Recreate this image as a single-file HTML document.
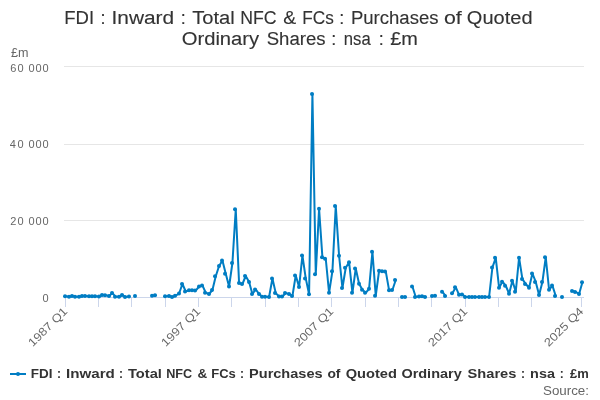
<!DOCTYPE html>
<html><head><meta charset="utf-8"><style>
html,body{margin:0;padding:0;background:#fff;width:600px;height:400px;overflow:hidden}
svg{display:block;will-change:transform;font-family:"Liberation Sans", sans-serif}
</style></head><body>
<svg width="600" height="400" viewBox="0 0 600 400">
<rect width="600" height="400" fill="#fff"/>
<g fill="#333333" font-size="18" stroke="#333333" stroke-width="0.12">
<text x="64.26" y="24.2" textLength="29.78" lengthAdjust="spacingAndGlyphs">FDI</text><text x="100.50" y="24.2">:</text><text x="111.56" y="24.2" textLength="62.63" lengthAdjust="spacingAndGlyphs">Inward</text><text x="180.70" y="24.2">:</text><text x="192.22" y="24.2" textLength="42.51" lengthAdjust="spacingAndGlyphs">Total</text><text x="240.23" y="24.2" textLength="36.31" lengthAdjust="spacingAndGlyphs">NFC</text><text x="283.16" y="24.2" textLength="12.92" lengthAdjust="spacingAndGlyphs">&amp;</text><text x="302.27" y="24.2" textLength="31.51" lengthAdjust="spacingAndGlyphs">FCs</text><text x="339.15" y="24.2">:</text><text x="350.96" y="24.2" textLength="87.51" lengthAdjust="spacingAndGlyphs">Purchases</text><text x="444.01" y="24.2" textLength="17.81" lengthAdjust="spacingAndGlyphs">of</text><text x="466.87" y="24.2" textLength="65.70" lengthAdjust="spacingAndGlyphs">Quoted</text><text x="181.66" y="45.2" textLength="77.58" lengthAdjust="spacingAndGlyphs">Ordinary</text><text x="266.73" y="45.2" textLength="58.84" lengthAdjust="spacingAndGlyphs">Shares</text><text x="331.25" y="45.2">:</text><text x="343.84" y="45.2" textLength="26.89" lengthAdjust="spacingAndGlyphs">nsa</text><text x="378.65" y="45.2">:</text><text x="390.15" y="45.2" textLength="27.68" lengthAdjust="spacingAndGlyphs">£m</text>
</g>
<g fill="#666666" font-size="11">
<text x="11" y="57.2" font-size="12" textLength="17.5" lengthAdjust="spacingAndGlyphs">£m</text>
<text x="10.28 17.55 28.5 35.5 42.5" y="71.6">60000</text>
<text x="9.83 17.55 28.5 35.5 42.5" y="147.9">40000</text>
<text x="10.28 17.55 28.5 35.5 42.5" y="225">20000</text>
<text x="42.55" y="301.7">0</text>
</g>
<g stroke="#e6e6e6" stroke-width="1">
<line x1="64" y1="66.5" x2="584" y2="66.5"/>
<line x1="64" y1="144.5" x2="584" y2="144.5"/>
<line x1="64" y1="220.5" x2="584" y2="220.5"/>
</g>
<g stroke="#ccd6eb" stroke-width="1">
<line x1="64" y1="297.5" x2="584" y2="297.5"/>
<line x1="65.5" y1="297" x2="65.5" y2="307"/><line x1="98.5" y1="297" x2="98.5" y2="307"/><line x1="131.5" y1="297" x2="131.5" y2="307"/><line x1="165.5" y1="297" x2="165.5" y2="307"/><line x1="198.5" y1="297" x2="198.5" y2="307"/><line x1="231.5" y1="297" x2="231.5" y2="307"/><line x1="265.5" y1="297" x2="265.5" y2="307"/><line x1="298.5" y1="297" x2="298.5" y2="307"/><line x1="331.5" y1="297" x2="331.5" y2="307"/><line x1="365.5" y1="297" x2="365.5" y2="307"/><line x1="398.5" y1="297" x2="398.5" y2="307"/><line x1="431.5" y1="297" x2="431.5" y2="307"/><line x1="465.5" y1="297" x2="465.5" y2="307"/><line x1="498.5" y1="297" x2="498.5" y2="307"/><line x1="531.5" y1="297" x2="531.5" y2="307"/><line x1="581.5" y1="297" x2="581.5" y2="307"/>
</g>
<g fill="#666666" font-size="11" text-anchor="end">
<text x="68.20" y="312" transform="rotate(-45 68.20 312)" font-size="11.5" textLength="50" lengthAdjust="spacingAndGlyphs">1987 Q1</text>
<text x="201.20" y="312" transform="rotate(-45 201.20 312)" font-size="11.5" textLength="50" lengthAdjust="spacingAndGlyphs">1997 Q1</text>
<text x="334.20" y="312" transform="rotate(-45 334.20 312)" font-size="11.5" textLength="50" lengthAdjust="spacingAndGlyphs">2007 Q1</text>
<text x="468.20" y="312" transform="rotate(-45 468.20 312)" font-size="11.5" textLength="50" lengthAdjust="spacingAndGlyphs">2017 Q1</text>
<text x="584.20" y="312" transform="rotate(-45 584.20 312)" font-size="11.5" textLength="50" lengthAdjust="spacingAndGlyphs">2025 Q4</text>
</g>
<path d="M65.75 296.30 L69.08 296.80 L72.42 295.90 L75.75 296.80 L79.08 296.70 L82.42 296.00 L85.75 296.00 L89.08 296.20 L92.42 296.20 L95.75 296.20 L99.08 296.50 L102.42 295.00 L105.75 295.30 L109.08 296.00 L112.42 293.10 L115.75 296.80 L119.08 296.80 L122.42 295.00 L125.75 297.00 L129.08 296.40 M152.42 295.70 L155.75 295.30 M165.75 296.30 L169.08 296.00 L172.42 297.00 L175.75 295.70 L179.08 293.50 L182.42 284.00 L185.75 291.50 L189.08 290.25 L192.42 290.25 L195.75 290.60 L199.08 286.50 L202.42 285.40 L205.75 292.75 L209.08 294.00 L212.42 290.00 L215.75 276.25 L219.08 266.00 L222.42 260.60 L225.75 273.75 L229.08 286.50 L232.42 263.00 L235.75 209.20 L239.08 283.10 L242.42 284.00 L245.75 276.00 L249.08 281.90 L252.42 294.00 L255.75 289.40 L259.08 294.00 L262.42 296.75 L265.75 296.75 L269.08 297.00 L272.42 278.50 L275.75 293.10 L279.08 296.50 L282.42 296.50 L285.75 293.10 L289.08 294.00 L292.42 296.00 L295.75 275.40 L299.08 287.10 L302.42 255.50 L305.75 278.40 L309.08 294.30 L312.42 94.00 L315.75 274.20 L319.08 208.75 L322.42 257.25 L325.75 258.75 L329.08 292.80 L332.42 271.20 L335.75 206.10 L339.08 255.75 L342.42 288.00 L345.75 267.75 L349.08 262.20 L352.42 292.80 L355.75 268.50 L359.08 283.80 L362.42 289.80 L365.75 292.80 L369.08 288.75 L372.42 251.70 L375.75 295.80 L379.08 270.75 L382.42 271.20 L385.75 271.40 L389.08 290.20 L392.42 290.00 L395.75 280.00 M402.42 297.00 L405.75 297.00 M412.42 286.50 L415.75 297.00 L419.08 296.50 L422.42 296.20 L425.75 297.00 M432.42 296.00 L435.75 295.80 M442.42 291.80 L445.75 296.00 M452.42 293.20 L455.75 287.20 L459.08 294.80 L462.42 294.50 L465.75 297.00 L469.08 297.00 L472.42 297.00 L475.75 297.00 L479.08 297.00 L482.42 297.00 L485.75 297.00 L489.08 297.00 L492.42 267.40 L495.75 257.80 L499.08 287.70 L502.42 281.70 L505.75 285.75 L509.08 293.70 L512.42 280.70 L515.75 291.75 L519.08 257.70 L522.42 279.10 L525.75 284.00 L529.08 287.75 L532.42 273.50 L535.75 281.90 L539.08 295.00 L542.42 281.90 L545.75 257.25 L549.08 289.75 L552.42 285.60 L555.75 296.00 M572.42 291.00 L575.75 291.90 L579.08 294.00 L582.42 282.25 " fill="none" stroke="#007dc3" stroke-width="2" stroke-linejoin="round" stroke-linecap="round"/>
<g fill="#007dc3"><circle cx="65" cy="296.30" r="2"/><circle cx="69" cy="296.80" r="2"/><circle cx="72" cy="295.90" r="2"/><circle cx="75" cy="296.80" r="2"/><circle cx="79" cy="296.70" r="2"/><circle cx="82" cy="296.00" r="2"/><circle cx="85" cy="296.00" r="2"/><circle cx="89" cy="296.20" r="2"/><circle cx="92" cy="296.20" r="2"/><circle cx="95" cy="296.20" r="2"/><circle cx="99" cy="296.50" r="2"/><circle cx="102" cy="295.00" r="2"/><circle cx="105" cy="295.30" r="2"/><circle cx="109" cy="296.00" r="2"/><circle cx="112" cy="293.10" r="2"/><circle cx="115" cy="296.80" r="2"/><circle cx="119" cy="296.80" r="2"/><circle cx="122" cy="295.00" r="2"/><circle cx="125" cy="297.00" r="2"/><circle cx="129" cy="296.40" r="2"/><circle cx="135" cy="296.00" r="2"/><circle cx="152" cy="295.70" r="2"/><circle cx="155" cy="295.30" r="2"/><circle cx="165" cy="296.30" r="2"/><circle cx="169" cy="296.00" r="2"/><circle cx="172" cy="297.00" r="2"/><circle cx="175" cy="295.70" r="2"/><circle cx="179" cy="293.50" r="2"/><circle cx="182" cy="284.00" r="2"/><circle cx="185" cy="291.50" r="2"/><circle cx="189" cy="290.25" r="2"/><circle cx="192" cy="290.25" r="2"/><circle cx="195" cy="290.60" r="2"/><circle cx="199" cy="286.50" r="2"/><circle cx="202" cy="285.40" r="2"/><circle cx="205" cy="292.75" r="2"/><circle cx="209" cy="294.00" r="2"/><circle cx="212" cy="290.00" r="2"/><circle cx="215" cy="276.25" r="2"/><circle cx="219" cy="266.00" r="2"/><circle cx="222" cy="260.60" r="2"/><circle cx="225" cy="273.75" r="2"/><circle cx="229" cy="286.50" r="2"/><circle cx="232" cy="263.00" r="2"/><circle cx="235" cy="209.20" r="2"/><circle cx="239" cy="283.10" r="2"/><circle cx="242" cy="284.00" r="2"/><circle cx="245" cy="276.00" r="2"/><circle cx="249" cy="281.90" r="2"/><circle cx="252" cy="294.00" r="2"/><circle cx="255" cy="289.40" r="2"/><circle cx="259" cy="294.00" r="2"/><circle cx="262" cy="296.75" r="2"/><circle cx="265" cy="296.75" r="2"/><circle cx="269" cy="297.00" r="2"/><circle cx="272" cy="278.50" r="2"/><circle cx="275" cy="293.10" r="2"/><circle cx="279" cy="296.50" r="2"/><circle cx="282" cy="296.50" r="2"/><circle cx="285" cy="293.10" r="2"/><circle cx="289" cy="294.00" r="2"/><circle cx="292" cy="296.00" r="2"/><circle cx="295" cy="275.40" r="2"/><circle cx="299" cy="287.10" r="2"/><circle cx="302" cy="255.50" r="2"/><circle cx="305" cy="278.40" r="2"/><circle cx="309" cy="294.30" r="2"/><circle cx="312" cy="94.00" r="2"/><circle cx="315" cy="274.20" r="2"/><circle cx="319" cy="208.75" r="2"/><circle cx="322" cy="257.25" r="2"/><circle cx="325" cy="258.75" r="2"/><circle cx="329" cy="292.80" r="2"/><circle cx="332" cy="271.20" r="2"/><circle cx="335" cy="206.10" r="2"/><circle cx="339" cy="255.75" r="2"/><circle cx="342" cy="288.00" r="2"/><circle cx="345" cy="267.75" r="2"/><circle cx="349" cy="262.20" r="2"/><circle cx="352" cy="292.80" r="2"/><circle cx="355" cy="268.50" r="2"/><circle cx="359" cy="283.80" r="2"/><circle cx="362" cy="289.80" r="2"/><circle cx="365" cy="292.80" r="2"/><circle cx="369" cy="288.75" r="2"/><circle cx="372" cy="251.70" r="2"/><circle cx="375" cy="295.80" r="2"/><circle cx="379" cy="270.75" r="2"/><circle cx="382" cy="271.20" r="2"/><circle cx="385" cy="271.40" r="2"/><circle cx="389" cy="290.20" r="2"/><circle cx="392" cy="290.00" r="2"/><circle cx="395" cy="280.00" r="2"/><circle cx="402" cy="297.00" r="2"/><circle cx="405" cy="297.00" r="2"/><circle cx="412" cy="286.50" r="2"/><circle cx="415" cy="297.00" r="2"/><circle cx="419" cy="296.50" r="2"/><circle cx="422" cy="296.20" r="2"/><circle cx="425" cy="297.00" r="2"/><circle cx="432" cy="296.00" r="2"/><circle cx="435" cy="295.80" r="2"/><circle cx="442" cy="291.80" r="2"/><circle cx="445" cy="296.00" r="2"/><circle cx="452" cy="293.20" r="2"/><circle cx="455" cy="287.20" r="2"/><circle cx="459" cy="294.80" r="2"/><circle cx="462" cy="294.50" r="2"/><circle cx="465" cy="297.00" r="2"/><circle cx="469" cy="297.00" r="2"/><circle cx="472" cy="297.00" r="2"/><circle cx="475" cy="297.00" r="2"/><circle cx="479" cy="297.00" r="2"/><circle cx="482" cy="297.00" r="2"/><circle cx="485" cy="297.00" r="2"/><circle cx="489" cy="297.00" r="2"/><circle cx="492" cy="267.40" r="2"/><circle cx="495" cy="257.80" r="2"/><circle cx="499" cy="287.70" r="2"/><circle cx="502" cy="281.70" r="2"/><circle cx="505" cy="285.75" r="2"/><circle cx="509" cy="293.70" r="2"/><circle cx="512" cy="280.70" r="2"/><circle cx="515" cy="291.75" r="2"/><circle cx="519" cy="257.70" r="2"/><circle cx="522" cy="279.10" r="2"/><circle cx="525" cy="284.00" r="2"/><circle cx="529" cy="287.75" r="2"/><circle cx="532" cy="273.50" r="2"/><circle cx="535" cy="281.90" r="2"/><circle cx="539" cy="295.00" r="2"/><circle cx="542" cy="281.90" r="2"/><circle cx="545" cy="257.25" r="2"/><circle cx="549" cy="289.75" r="2"/><circle cx="552" cy="285.60" r="2"/><circle cx="555" cy="296.00" r="2"/><circle cx="562" cy="296.90" r="2"/><circle cx="572" cy="291.00" r="2"/><circle cx="575" cy="291.90" r="2"/><circle cx="579" cy="294.00" r="2"/><circle cx="582" cy="282.25" r="2"/></g>
<line x1="10" y1="374" x2="26" y2="374" stroke="#007dc3" stroke-width="2"/>
<circle cx="18" cy="374" r="2" fill="#007dc3"/>
<g font-size="12" font-weight="bold" fill="#333333"><text x="30.86" y="378" textLength="21.71" lengthAdjust="spacingAndGlyphs">FDI</text><text x="57.10" y="378">:</text><text x="66.05" y="378" textLength="48.79" lengthAdjust="spacingAndGlyphs">Inward</text><text x="119.05" y="378">:</text><text x="128.00" y="378" textLength="33.95" lengthAdjust="spacingAndGlyphs">Total</text><text x="166.21" y="378" textLength="25.97" lengthAdjust="spacingAndGlyphs">NFC</text><text x="197.44" y="378" textLength="9.76" lengthAdjust="spacingAndGlyphs">&amp;</text><text x="211.19" y="378" textLength="24.57" lengthAdjust="spacingAndGlyphs">FCs</text><text x="240.10" y="378">:</text><text x="249.09" y="378" textLength="73.46" lengthAdjust="spacingAndGlyphs">Purchases</text><text x="327.42" y="378" textLength="13.08" lengthAdjust="spacingAndGlyphs">of</text><text x="345.69" y="378" textLength="51.22" lengthAdjust="spacingAndGlyphs">Quoted</text><text x="401.40" y="378" textLength="60.32" lengthAdjust="spacingAndGlyphs">Ordinary</text><text x="467.60" y="378" textLength="48.75" lengthAdjust="spacingAndGlyphs">Shares</text><text x="521.00" y="378">:</text><text x="530.10" y="378" textLength="24.82" lengthAdjust="spacingAndGlyphs">nsa</text><text x="559.85" y="378">:</text><text x="570.00" y="378" textLength="18.74" lengthAdjust="spacingAndGlyphs">£m</text></g>
<text x="589" y="395" font-size="12" fill="#666666" text-anchor="end" textLength="46" lengthAdjust="spacingAndGlyphs">Source:</text>
</svg>
</body></html>
